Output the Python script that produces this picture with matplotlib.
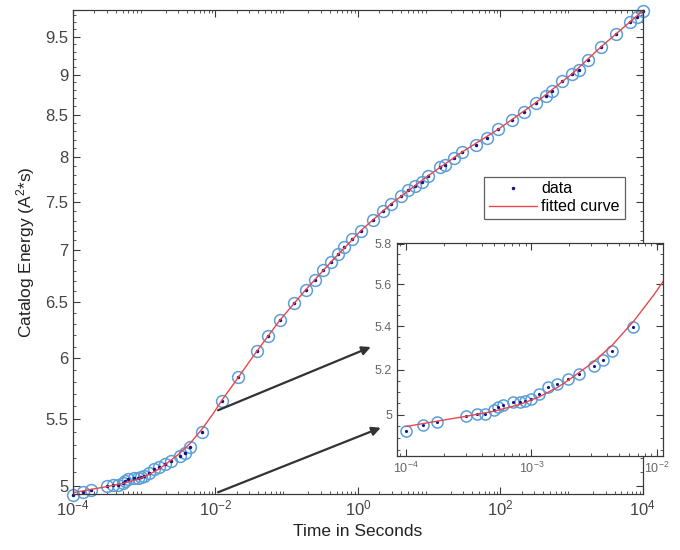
import matplotlib.pyplot as plt
import matplotlib.ticker as mticker

plt.rcParams['font.family'] = ['Liberation Sans', 'DejaVu Sans']
plt.rcParams['mathtext.default'] = 'regular'

# data
time_s = [1.0e-4, 1.36e-4, 1.76e-4, 3.0e-4, 3.66e-4, 4.24e-4, 5.02e-4, 5.44e-4,
          5.96e-4, 7.08e-4, 8.09e-4, 8.93e-4, 1.0e-3, 1.15e-3, 1.36e-3, 1.61e-3,
          1.95e-3, 2.40e-3, 3.15e-3, 3.71e-3, 4.38e-3, 6.47e-3,
          0.0122, 0.0209, 0.0378, 0.0551, 0.0803, 0.128, 0.186, 0.249, 0.326,
          0.418, 0.519, 0.643, 0.817, 1.10, 1.61, 2.22, 2.91, 3.97, 5.08, 6.31,
          7.83, 9.70, 14.2, 16.6, 22.2, 29.1, 44.9, 64.0, 93.1, 146.5, 213.8,
          311.9, 430.5, 523.6, 722.8, 1018, 1265, 1707, 2576, 4141, 6577, 8166, 9908]
energy = [4.932, 4.955, 4.970, 4.994, 5.004, 5.002, 5.020, 5.034,
          5.044, 5.056, 5.054, 5.061, 5.069, 5.093, 5.120, 5.133,
          5.156, 5.180, 5.218, 5.242, 5.283, 5.395,
          5.646, 5.837, 6.057, 6.193, 6.335, 6.494, 6.618, 6.713, 6.802,
          6.884, 6.966, 7.032, 7.109, 7.200, 7.314, 7.409, 7.480, 7.569, 7.631, 7.678,
          7.721, 7.788, 7.880, 7.910, 7.993, 8.057, 8.138, 8.224, 8.322, 8.433, 8.529,
          8.644, 8.734, 8.788, 8.913, 9.011, 9.062, 9.188, 9.362, 9.536, 9.709, 9.778, 9.854]

fit_time = [1.0e-4, 1.76e-4, 3.0e-4, 5.0e-4, 8.1e-4, 1.15e-3, 1.61e-3, 2.0e-3,
            2.4e-3, 3.08e-3, 4.38e-3, 6.56e-3, 9.35e-3, 0.0122, 0.0209, 0.0378,
            0.0803, 0.186, 0.418, 1.10, 2.91, 9.70, 29.1, 93.1, 311.9, 1018,
            2576, 1.0e4]
fit_energy = [4.949, 4.972, 4.993, 5.015, 5.045, 5.078, 5.120, 5.155,
              5.187, 5.232, 5.310, 5.425, 5.545, 5.646, 5.837, 6.057,
              6.335, 6.618, 6.884, 7.200, 7.480, 7.788, 8.057, 8.322, 8.644, 9.011,
              9.362, 9.86]

main_xticks = [1e-4, 1e-2, 1e0, 1e2, 1e4]
main_xlabels = ['$10^{-4}$', '$10^{-2}$', '$10^{0}$', '$10^{2}$', '$10^{4}$']
main_yticks = [5, 5.5, 6, 6.5, 7, 7.5, 8, 8.5, 9, 9.5]
inset_xticks = [1e-4, 1e-3, 1e-2]
inset_xlabels = ['$10^{-4}$', '$10^{-3}$', '$10^{-2}$']
inset_yticks = [5, 5.2, 5.4, 5.6, 5.8]

ring_col = '#5b9fd8'
dot_col = '#14148a'
fit_col = '#e8474c'
axis_col = '#3a3a3a'


def style_axes(a, fs):
    a.tick_params(which='both', direction='in', top=True, right=True,
                  colors=axis_col, labelsize=fs, labelcolor='#444444')
    a.tick_params(which='major', length=5, width=0.8)
    a.tick_params(which='minor', length=2.5, width=0.6)
    for s in a.spines.values():
        s.set_color(axis_col)
        s.set_linewidth(0.9)


def draw_series(a, xs, ys, ms_ring, ms_dot, clip):
    a.plot(xs, ys, 'o', mfc='none', mec=ring_col, ms=ms_ring, mew=1.1, clip_on=clip)
    a.plot(xs, ys, '.', color=dot_col, ms=ms_dot, label='data', clip_on=clip)
    a.plot(fit_time, fit_energy, '-', color=fit_col, lw=1.0, label='fitted curve')


fig = plt.figure(figsize=(6.8, 5.5), dpi=100)

ax = fig.add_axes([0.1074, 0.1018, 0.838, 0.88])
draw_series(ax, time_s, energy, 8.5, 3, False)
ax.set_xscale('log')
ax.set_yscale('log')
ax.set_xlim(1e-4, 1e4)
ax.set_ylim(4.94, 9.87)
ax.xaxis.set_major_locator(mticker.FixedLocator(main_xticks))
ax.xaxis.set_major_formatter(mticker.FixedFormatter(main_xlabels))
ax.xaxis.set_minor_locator(mticker.LogLocator(base=10, subs=range(2, 10), numticks=20))
ax.xaxis.set_minor_formatter(mticker.NullFormatter())
ax.yaxis.set_major_locator(mticker.FixedLocator(main_yticks))
ax.yaxis.set_major_formatter(mticker.FormatStrFormatter('%g'))
ax.yaxis.set_minor_locator(mticker.MultipleLocator(0.1))
ax.yaxis.set_minor_formatter(mticker.NullFormatter())
style_axes(ax, 12)
ax.set_xlabel('Time in Seconds', fontsize=12.5, color='#222222')
ax.set_ylabel('Catalog Energy (A$^2$*s)', fontsize=12.5, color='#222222', labelpad=6)
leg = ax.legend(loc='upper right', bbox_to_anchor=(0.968, 0.656), fancybox=False,
                edgecolor=axis_col, fontsize=11.5, handlelength=3.0, borderpad=0.3,
                labelspacing=0.2, handletextpad=0.3, borderaxespad=0)
leg.get_frame().set_linewidth(0.9)

# arrows from the main plot to the inset
ax.annotate('', xy=(0.549, 0.371), xycoords='figure fraction', xytext=(0.01, 5.56),
            textcoords='data',
            arrowprops=dict(arrowstyle='-|>', color='#333333', lw=1.6, mutation_scale=13))
ax.annotate('', xy=(0.5637, 0.2242), xycoords='figure fraction', xytext=(0.01, 4.945),
            textcoords='data',
            arrowprops=dict(arrowstyle='-|>', color='#333333', lw=1.6, mutation_scale=13))

# zoomed inset: only the early samples
early = [i for i, t in enumerate(time_s) if t <= 1e-2]
ins = fig.add_axes([0.5838, 0.1709, 0.3912, 0.3873])
ins.set_facecolor('white')
draw_series(ins, [time_s[i] for i in early], [energy[i] for i in early], 8, 2.5, True)
ins.set_xscale('log')
ins.set_yscale('log')
ins.set_xlim(10 ** -4.072, 10 ** -1.952)
ins.set_ylim(4.824, 5.804)
ins.xaxis.set_major_locator(mticker.FixedLocator(inset_xticks))
ins.xaxis.set_major_formatter(mticker.FixedFormatter(inset_xlabels))
ins.xaxis.set_minor_locator(mticker.LogLocator(base=10, subs=range(2, 10), numticks=20))
ins.xaxis.set_minor_formatter(mticker.NullFormatter())
ins.yaxis.set_major_locator(mticker.FixedLocator(inset_yticks))
ins.yaxis.set_major_formatter(mticker.FormatStrFormatter('%g'))
ins.yaxis.set_minor_locator(mticker.MultipleLocator(0.05))
ins.yaxis.set_minor_formatter(mticker.NullFormatter())
style_axes(ins, 9)
for lab in ins.get_xticklabels() + ins.get_yticklabels():
    lab.set_color('#666666')

fig.savefig('out.png', dpi=100)
